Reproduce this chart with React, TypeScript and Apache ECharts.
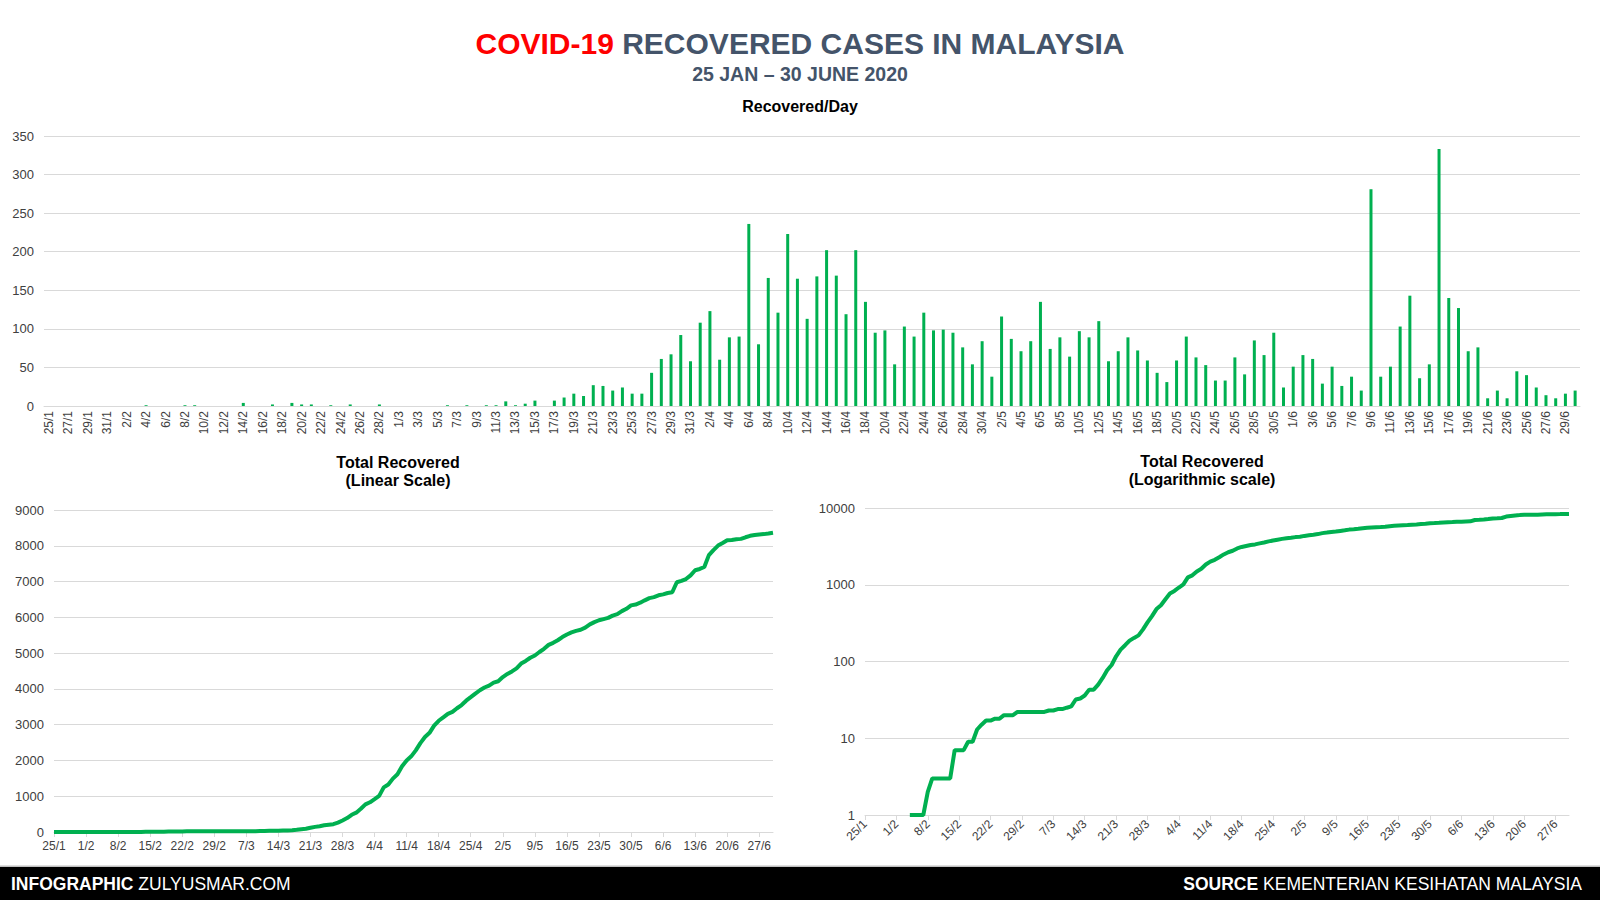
import React, { useEffect, useRef } from "react";
import * as echarts from "echarts";

const FONT = '"Liberation Sans", Arial, Helvetica, sans-serif';
const GREEN = "#00B050";
const SLATE = "#44546A";
const GRID_GRAY = "#d9d9d9";
const LABEL = "#404040";

// Calendar span of the chart: 25 Jan – 30 Jun 2020
const monthSpans = [
  { month: 1, from: 25, to: 31 },
  { month: 2, from: 1, to: 29 },
  { month: 3, from: 1, to: 31 },
  { month: 4, from: 1, to: 30 },
  { month: 5, from: 1, to: 31 },
  { month: 6, from: 1, to: 30 },
];

// Recovered per day
const janRecovered = [0, 0, 0, 0, 0, 0, 0]; // 25–31 Jan
const febRecovered = [
  0, 0, 0, 1, 0, 0, 0, 1, 1, 0, 0, 0, 0, 4, 0, 0, 2, 0, 4, 2, 2, 0, 1, 0, 2, 0, 0, 2, 0,
];
const marRecovered = [
  0, 0, 0, 0, 0, 1, 0, 1, 0, 1, 1, 6, 1, 3, 7, 0, 7, 11, 16, 13, 27, 26, 20, 24, 16, 16, 43, 61, 67, 92, 58,
];
const aprRecovered = [
  108, 123, 60, 89, 90, 236, 80, 166, 121, 223, 165, 113, 168, 202, 169, 119, 202, 135, 95, 98, 54, 103, 90, 121, 98,
  99, 95, 76, 54, 84,
];
const mayRecovered = [
  38, 116, 87, 71, 84, 135, 74, 89, 64, 97, 89, 110, 58, 71, 89, 72, 59, 43, 31, 59, 90, 63, 53, 33, 33, 63, 41, 85,
  66, 95, 24,
];
const junRecovered = [
  51, 66, 61, 29, 51, 26, 38, 20, 281, 38, 51, 103, 143, 36, 54, 333, 140, 127, 71, 76, 10, 20, 10, 45, 40, 24, 14, 10,
  16, 20,
];

const barTicks = [0, 50, 100, 150, 200, 250, 300, 350];
const linearTicks = [0, 1000, 2000, 3000, 4000, 5000, 6000, 7000, 8000, 9000];
const logTicks = [1, 10, 100, 1000, 10000];

const dates: string[] = [];
monthSpans.forEach(({ month, from, to }) => {
  for (let d = from; d <= to; d++) dates.push(`${d}/${month}`);
});

const daily = [...janRecovered, ...febRecovered, ...marRecovered, ...aprRecovered, ...mayRecovered, ...junRecovered];

// Total recovered = running total of the daily recoveries
const total: number[] = [];
daily.reduce((acc, v) => {
  const t = acc + v;
  total.push(t);
  return t;
}, 0);
const totalLog = total.map((v) => (v > 0 ? v : "-"));

const axisLabelBase = { color: LABEL, fontFamily: FONT };

function buildOption() {
  return {
    animation: false,
    backgroundColor: "#ffffff",
    textStyle: { fontFamily: FONT },
    grid: [
      { left: 44, top: 136, width: 1536, height: 270 },
      { left: 54, top: 510, width: 719, height: 322 },
      { left: 865, top: 508, width: 704, height: 307 },
    ],
    xAxis: [
      {
        gridIndex: 0,
        type: "category",
        data: dates,
        boundaryGap: true,
        axisLine: { lineStyle: { color: GRID_GRAY, width: 1 } },
        axisTick: { interval: 1, length: 5, lineStyle: { color: GRID_GRAY } },
        axisLabel: { ...axisLabelBase, interval: 1, rotate: 90, fontSize: 12, margin: 5 },
      },
      {
        gridIndex: 1,
        type: "category",
        data: dates,
        boundaryGap: false,
        axisLine: { lineStyle: { color: GRID_GRAY, width: 1 } },
        axisTick: { interval: 6, length: 5, lineStyle: { color: GRID_GRAY } },
        axisLabel: { ...axisLabelBase, interval: 6, fontSize: 12, margin: 8 },
      },
      {
        gridIndex: 2,
        type: "category",
        data: dates,
        boundaryGap: false,
        axisLine: { lineStyle: { color: GRID_GRAY, width: 1 } },
        axisTick: { interval: 6, length: 5, lineStyle: { color: GRID_GRAY } },
        axisLabel: { ...axisLabelBase, interval: 6, rotate: 45, fontSize: 12, margin: 7 },
      },
    ],
    yAxis: [
      {
        gridIndex: 0,
        type: "value",
        min: barTicks[0],
        max: barTicks[barTicks.length - 1],
        interval: 50,
        axisLine: { show: false },
        axisTick: { show: false },
        splitLine: { lineStyle: { color: GRID_GRAY, width: 1 } },
        axisLabel: { ...axisLabelBase, fontSize: 13, margin: 10 },
      },
      {
        gridIndex: 1,
        type: "value",
        min: linearTicks[0],
        max: linearTicks[linearTicks.length - 1],
        interval: 1000,
        axisLine: { show: false },
        axisTick: { show: false },
        splitLine: { lineStyle: { color: GRID_GRAY, width: 1 } },
        axisLabel: { ...axisLabelBase, fontSize: 13, margin: 10, formatter: (v: number) => String(Math.round(v)) },
      },
      {
        gridIndex: 2,
        type: "log",
        logBase: 10,
        min: logTicks[0],
        max: logTicks[logTicks.length - 1],
        axisLine: { show: false },
        axisTick: { show: false },
        splitLine: { lineStyle: { color: GRID_GRAY, width: 1 } },
        axisLabel: { ...axisLabelBase, fontSize: 13, margin: 10, formatter: (v: number) => String(Math.round(v)) },
      },
    ],
    series: [
      {
        type: "bar",
        xAxisIndex: 0,
        yAxisIndex: 0,
        data: daily,
        barWidth: 3,
        itemStyle: { color: GREEN },
      },
      {
        type: "line",
        xAxisIndex: 1,
        yAxisIndex: 1,
        data: total,
        symbol: "none",
        showSymbol: false,
        lineStyle: { color: GREEN, width: 4 },
      },
      {
        type: "line",
        xAxisIndex: 2,
        yAxisIndex: 2,
        data: totalLog,
        symbol: "none",
        showSymbol: false,
        lineStyle: { color: GREEN, width: 4 },
      },
    ],
    graphic: [
      {
        type: "text",
        x: 800,
        y: 43,
        style: {
          text: "{r|COVID-19}{s| RECOVERED CASES IN MALAYSIA}",
          align: "center",
          verticalAlign: "middle",
          textAlign: "center",
          textVerticalAlign: "middle",
          rich: {
            r: { fill: "#FF0000", fontSize: 30, fontWeight: "bold", fontFamily: FONT },
            s: { fill: SLATE, fontSize: 30, fontWeight: "bold", fontFamily: FONT },
          },
        },
      },
      {
        type: "text",
        x: 800,
        y: 74,
        style: {
          text: "25 JAN – 30 JUNE 2020",
          fill: SLATE,
          font: `bold 19.5px ${FONT}`,
          align: "center",
          verticalAlign: "middle",
          textAlign: "center",
          textVerticalAlign: "middle",
        },
      },
      {
        type: "text",
        x: 800,
        y: 106,
        style: {
          text: "Recovered/Day",
          fill: "#000000",
          font: `bold 16px ${FONT}`,
          align: "center",
          verticalAlign: "middle",
          textAlign: "center",
          textVerticalAlign: "middle",
        },
      },
      {
        type: "text",
        x: 398,
        y: 471.5,
        style: {
          text: "Total Recovered\n(Linear Scale)",
          fill: "#000000",
          font: `bold 16px ${FONT}`,
          lineHeight: 18.5,
          align: "center",
          verticalAlign: "middle",
          textAlign: "center",
          textVerticalAlign: "middle",
        },
      },
      {
        type: "text",
        x: 1202,
        y: 470.5,
        style: {
          text: "Total Recovered\n(Logarithmic scale)",
          fill: "#000000",
          font: `bold 16px ${FONT}`,
          lineHeight: 18.5,
          align: "center",
          verticalAlign: "middle",
          textAlign: "center",
          textVerticalAlign: "middle",
        },
      },
      {
        type: "rect",
        shape: { x: 0, y: 865.5, width: 1600, height: 1.5 },
        style: { fill: "#bfbfbf" },
      },
      {
        type: "rect",
        shape: { x: 0, y: 867, width: 1600, height: 33 },
        style: { fill: "#000000" },
      },
      {
        type: "text",
        x: 11,
        y: 884,
        style: {
          text: "{b|INFOGRAPHIC}{n| ZULYUSMAR.COM}",
          align: "left",
          verticalAlign: "middle",
          textAlign: "left",
          textVerticalAlign: "middle",
          rich: {
            b: { fill: "#ffffff", fontSize: 17.5, fontWeight: "bold", fontFamily: FONT },
            n: { fill: "#ffffff", fontSize: 17.5, fontWeight: "normal", fontFamily: FONT },
          },
        },
      },
      {
        type: "text",
        x: 1582,
        y: 884,
        style: {
          text: "{b|SOURCE}{n| KEMENTERIAN KESIHATAN MALAYSIA}",
          align: "right",
          verticalAlign: "middle",
          textAlign: "right",
          textVerticalAlign: "middle",
          rich: {
            b: { fill: "#ffffff", fontSize: 17.5, fontWeight: "bold", fontFamily: FONT },
            n: { fill: "#ffffff", fontSize: 17.5, fontWeight: "normal", fontFamily: FONT },
          },
        },
      },
    ],
  };
}

export default function App() {
  const ref = useRef<HTMLDivElement>(null);
  useEffect(() => {
    if (!ref.current) return;
    const chart = echarts.init(ref.current, null, { renderer: "svg" });
    chart.setOption(buildOption() as any);
    return () => chart.dispose();
  }, []);
  return (
    <div
      ref={ref}
      style={{ position: "fixed", left: 0, top: 0, width: 1600, height: 904, background: "#ffffff" }}
    />
  );
}
